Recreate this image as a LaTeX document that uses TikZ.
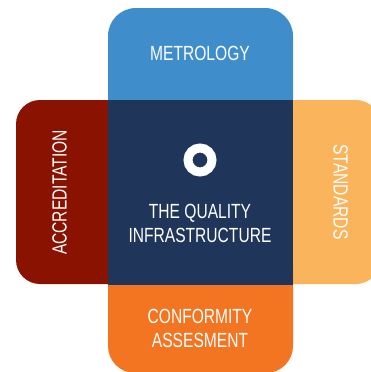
\documentclass[tikz,border=0pt]{standalone}
\usepackage{fontspec}
\newfontfamily\condfont[FakeStretch=0.76]{Liberation Sans}
\definecolor{metblue}{RGB}{63,141,203}
\definecolor{qinavy}{RGB}{31,53,90}
\definecolor{accred}{RGB}{138,18,0}
\definecolor{stdyellow}{RGB}{249,180,92}
\definecolor{conforange}{RGB}{243,117,33}
\tikzset{
  label text/.style={text=white, inner sep=0pt, font=\condfont\fontsize{20.5}{24}\selectfont, align=center}
}
\begin{document}
\begin{tikzpicture}[x=1pt,y=-1pt]
\useasboundingbox (0,0) rectangle (371,372);
% the four arms, each partly hidden by the centre square
\fill[metblue]    (108,8)   [rounded corners=28pt] rectangle (293,140);
\fill[stdyellow]  (250,100) [rounded corners=24pt] rectangle (380,284);
\fill[accred]     (16,100)  [rounded corners=24pt] rectangle (150,284);
\fill[conforange] (108,240) [rounded corners=27pt] rectangle (293,373);
% centre square
\fill[qinavy] (108,100) rectangle (293,285);
% ring symbol
\draw[white, line width=9pt] (200,160) circle[radius=12];
% labels (multi-line nodes are placed by the baseline of their last line)
\node[label text, anchor=base] (met) at (200,60) {METROLOGY};
\node[label text, anchor=base, rotate=90] (acc) at (66.5,192.5) {ACCREDITATION};
\node[label text, anchor=base, rotate=-90] (std) at (333.5,192) {STANDARDS};
\node[label text, anchor=base] (qi) at (200,242) {THE QUALITY\\INFRASTRUCTURE};
\node[label text, anchor=base] (ca) at (200,347) {CONFORMITY\\ASSESMENT};
\end{tikzpicture}
\end{document}
